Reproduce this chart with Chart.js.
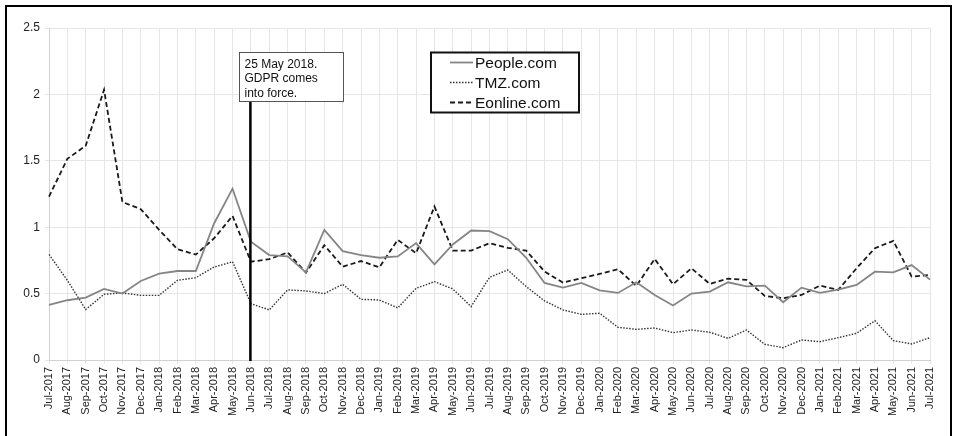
<!DOCTYPE html>
<html><head><meta charset="utf-8">
<script src="https://cdn.jsdelivr.net/npm/chart.js@4/dist/chart.umd.min.js"></script>
<style>
html,body{margin:0;padding:0;background:#fff;}
#wrap{position:relative;width:953px;height:436px;overflow:hidden;}
#frame{position:absolute;left:5px;top:5px;width:943px;height:445px;border:2px solid #000;pointer-events:none;}
canvas{position:absolute;left:0;top:0;}
</style></head><body>
<div id="wrap"><canvas id="c" width="953" height="436"></canvas><div id="frame"></div></div>
<script>
const months = ['Jul-2017','Aug-2017','Sep-2017','Oct-2017','Nov-2017','Dec-2017',
 'Jan-2018','Feb-2018','Mar-2018','Apr-2018','May-2018','Jun-2018','Jul-2018','Aug-2018','Sep-2018','Oct-2018','Nov-2018','Dec-2018',
 'Jan-2019','Feb-2019','Mar-2019','Apr-2019','May-2019','Jun-2019','Jul-2019','Aug-2019','Sep-2019','Oct-2019','Nov-2019','Dec-2019',
 'Jan-2020','Feb-2020','Mar-2020','Apr-2020','May-2020','Jun-2020','Jul-2020','Aug-2020','Sep-2020','Oct-2020','Nov-2020','Dec-2020',
 'Jan-2021','Feb-2021','Mar-2021','Apr-2021','May-2021','Jun-2021','Jul-2021'];
const people = [0.415,0.45,0.47,0.535,0.50,0.595,0.65,0.67,0.67,1.03,1.29,0.89,0.79,0.78,0.66,0.98,0.82,0.79,
 0.77,0.78,0.88,0.72,0.87,0.975,0.97,0.91,0.77,0.58,0.545,0.58,0.525,0.505,0.585,0.49,0.41,0.50,0.515,0.585,0.555,0.56,0.435,0.545,
 0.505,0.53,0.565,0.665,0.66,0.715,0.605];
const tmz = [0.795,0.60,0.38,0.495,0.505,0.487,0.487,0.60,0.62,0.70,0.74,0.425,0.377,0.528,0.52,0.50,0.57,0.457,
 0.452,0.392,0.54,0.59,0.535,0.402,0.623,0.678,0.553,0.445,0.377,0.344,0.352,0.246,0.231,0.241,0.206,0.226,0.209,0.163,0.226,0.118,0.093,0.151,
 0.138,0.168,0.201,0.296,0.146,0.121,0.168];
const eonline = [1.23,1.515,1.613,2.035,1.19,1.136,0.98,0.834,0.794,0.917,1.085,0.74,0.759,0.81,0.658,0.864,0.703,0.745,
 0.698,0.905,0.804,1.156,0.824,0.824,0.879,0.845,0.824,0.666,0.583,0.616,0.648,0.683,0.558,0.761,0.57,0.691,0.573,0.613,0.603,0.482,0.465,0.49,
 0.56,0.528,0.691,0.842,0.897,0.628,0.641];
const seriesNames = ['People.com','TMZ.com','Eonline.com'];
const eventMonth = 'Jun-2018';
const eventText = ['25 May 2018.','GDPR comes','into force.'];

const FONT = 'Arial, "Liberation Sans", sans-serif';

const overlay = {
  id:'overlay',
  afterDatasetsDraw(chart){
    const ctx = chart.ctx, xs = chart.scales.x, area = chart.chartArea;
    ctx.save();
    // annotation box
    const bx=239.5, by=52.5, bw=104, bh=49;
    const vx = xs.getPixelForValue(months.indexOf(eventMonth)) - 0.5;
    ctx.strokeStyle='#000'; ctx.lineWidth=2.5;
    ctx.beginPath(); ctx.moveTo(vx, by+bh); ctx.lineTo(vx, area.bottom+1); ctx.stroke();
    ctx.fillStyle='#fff'; ctx.fillRect(bx,by,bw,bh);
    ctx.strokeStyle='#555'; ctx.lineWidth=1; ctx.strokeRect(bx,by,bw,bh);
    ctx.fillStyle='#111'; ctx.font='12px '+FONT; ctx.textBaseline='middle'; ctx.textAlign='left';
    eventText.forEach((t,i)=>ctx.fillText(t, bx+5, by+12+i*14.5));
    // legend box
    const lx=431, ly=52.5, lw=148, lh=60;
    ctx.fillStyle='#fff'; ctx.fillRect(lx,ly,lw,lh);
    ctx.strokeStyle='#111'; ctx.lineWidth=2; ctx.strokeRect(lx,ly,lw,lh);
    ctx.font='15.5px '+FONT;
    chart.data.datasets.forEach((ds,i)=>{
      const yy = ly+10+i*20;
      ctx.save();
      ctx.strokeStyle=ds.borderColor; ctx.lineWidth=ds.borderWidth;
      ctx.setLineDash(ds.borderDash||[]);
      ctx.beginPath(); ctx.moveTo(450,yy); ctx.lineTo(473,yy); ctx.stroke();
      ctx.restore();
      ctx.fillStyle='#111'; ctx.fillText(ds.label, 475, yy+1);
    });
    ctx.restore();
  }
};

new Chart(document.getElementById('c'), {
  type:'line',
  data:{
    labels: months,
    datasets:[
      {label:seriesNames[0], data:people, borderColor:'#858585', borderWidth:1.8, borderDash:[], pointRadius:0, tension:0},
      {label:seriesNames[1], data:tmz, borderColor:'#333', borderWidth:1.4, borderDash:[1.5,1.5], pointRadius:0, tension:0},
      {label:seriesNames[2], data:eonline, borderColor:'#1a1a1a', borderWidth:1.8, borderDash:[5,3], pointRadius:0, tension:0}
    ]
  },
  options:{
    responsive:false, animation:false, devicePixelRatio:1,
    layout:{padding:{top:28,right:23,left:0,bottom:0}},
    plugins:{legend:{display:false}, tooltip:{enabled:false}},
    scales:{
      x:{
        offset:false,
        grid:{color:'#e6e6e6', tickLength:4, drawTicks:true},
        border:{color:'#d0d0d0', width:1},
        ticks:{autoSkip:false, minRotation:90, maxRotation:90, padding:3, color:'#222', font:{family:FONT, size:11}},
        afterFit(s){ s.height = 76; }
      },
      y:{
        min:0, max:2.5,
        grid:{color:'#e6e6e6', tickLength:4},
        border:{color:'#d0d0d0', width:1},
        ticks:{stepSize:0.5, padding:5, color:'#222', font:{family:FONT, size:12},
          callback:v=>String(v)},
        afterFit(s){ s.width = 49; }
      }
    }
  },
  plugins:[overlay]
});
</script>
</body></html>
